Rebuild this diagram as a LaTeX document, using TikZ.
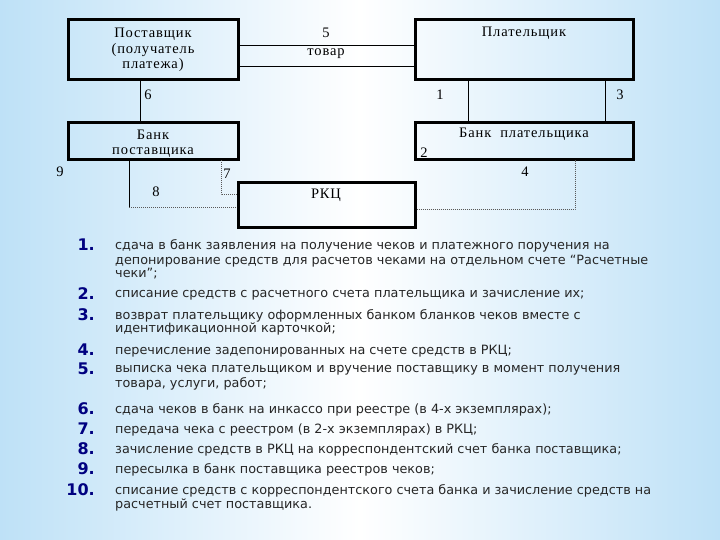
\documentclass[tikz,border=0pt]{standalone}
\usepackage{fontspec}
\setmainfont{Liberation Serif}[LetterSpace=6]
\newfontfamily\listfont{DejaVu Sans}
\begin{document}
\begin{tikzpicture}[x=1pt,y=-1pt,
  box/.style={draw,line width=3pt,inner sep=0pt},
  lbl/.style={font=\fontsize{14.5}{15.5}\selectfont,inner sep=0pt},
  conn/.style={line width=0.6pt},
  dconn/.style={line width=1pt,gray!70!black,densely dotted},
  num/.style={anchor=east,font=\listfont\bfseries\fontsize{16}{16}\selectfont,text=blue!50!black,inner sep=0pt},
  item/.style={anchor=west,font=\listfont\fontsize{12.8}{12}\selectfont,text=black!85,inner sep=0pt}]
\definecolor{bgc}{RGB}{190,225,247}
\useasboundingbox (0,0) rectangle (720,540);
\shade[left color=bgc, right color=bgc, middle color=white] (0,0) rectangle (720,540);
% boxes
\node[box,minimum width=170pt,minimum height=60pt] (sup) at (153,50) {};
\node[box,minimum width=218pt,minimum height=60pt] (pay) at (524,50) {};
\node[box,minimum width=170pt,minimum height=37pt] (bsup) at (153,141.5) {};
\node[box,minimum width=218pt,minimum height=37pt] (bpay) at (524,141.5) {};
\node[box,minimum width=177pt,minimum height=45pt] (rkc) at (326.5,205.5) {};
\node[lbl,align=center] (supt) at (153,50) {Поставщик\\(получатель\\платежа)};
\node[lbl] (payt) at (524,33) {Плательщик};
\node[lbl,align=center] (bsupt) at (153,144) {Банк\\поставщика};
\node[lbl] (bpayt) at (524,134) {Банк \ плательщика};
\node[lbl] (rkct) at (326,195) {РКЦ};
% connectors
\coordinate (a1) at (238,45); \coordinate (a2) at (415,45);
\coordinate (b1) at (238,66); \coordinate (b2) at (415,66);
\draw[conn] (a1) -- (a2); \draw[conn] (b1) -- (b2);
\node[lbl] (n5) at (326,33) {5};
\node[lbl] (tov) at (326,54) {товар};
\draw[conn] (140,80) -- (140,123);
\node[lbl] (n6) at (148,95) {6};
\draw[conn] (468,80) -- (468,123);
\node[lbl] (n1) at (440,95) {1};
\draw[line width=1pt] (605,80) -- (605,123);
\node[lbl] (n3) at (620,95) {3};
\node[lbl] (n2) at (424,153) {2};
\node[lbl] (n9) at (60,172) {9};
\node[lbl] (n8) at (156,192) {8};
\node[lbl] (n7) at (227,174) {7};
\node[lbl] (n4) at (525,172) {4};
\draw[conn] (129,160) -- (129,208);
\draw[dconn] (129,208) -- (rkc.west |- 0,208);
\draw[dconn] (221,160) -- (221,195) -- (rkc.west |- 0,195);
\draw[dconn] (rkc.east |- 0,210) -- (575,210) -- (575,160);
% list
\foreach \n/\y in {1/245,2/294,3/315,4/350,5/369,6/409,7/429,8/449,9/469,10/490}
  \node[num] at (95,\y) {\n.};
\node[item] at (115,246) {сдача в банк заявления на получение чеков и платежного поручения на};
\node[item] at (115,261) {депонирование средств для расчетов чеками на отдельном счете “Расчетные};
\node[item] at (115,274) {чеки”;};
\node[item] at (115,295) {списание средств с расчетного счета плательщика и зачисление их;};
\node[item] at (115,316) {возврат плательщику оформленных банком бланков чеков вместе с};
\node[item] at (115,329) {идентификационной карточкой;};
\node[item] at (115,351) {перечисление задепонированных на счете средств в РКЦ;};
\node[item] at (115,370) {выписка чека плательщиком и вручение поставщику в момент получения};
\node[item] at (115,384) {товара, услуги, работ;};
\node[item] at (115,410) {сдача чеков в банк на инкассо при реестре (в 4-х экземплярах);};
\node[item] at (115,430) {передача чека с реестром (в 2-х экземплярах) в РКЦ;};
\node[item] at (115,450) {зачисление средств в РКЦ на корреспондентский счет банка поставщика;};
\node[item] at (115,470) {пересылка в банк поставщика реестров чеков;};
\node[item] at (115,491) { списание средств с корреспондентского счета банка и зачисление средств на};
\node[item] at (115,505) {расчетный счет поставщика.};
\end{tikzpicture}
\end{document}
